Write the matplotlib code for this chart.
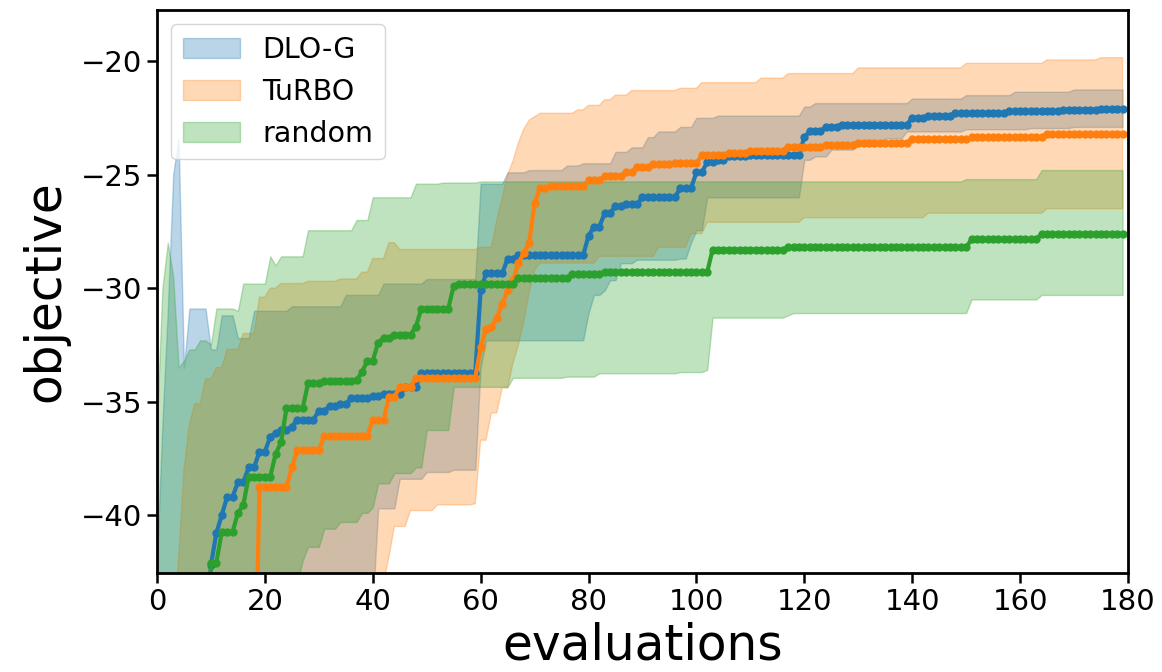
import numpy as np
import matplotlib
matplotlib.use("Agg")
from matplotlib import pyplot as plt

N = 180
evals = np.arange(N)

# (first evaluation, value) -- value holds until the next entry
dlo_mean = [(0, -50), (10, -42.2), (11, -40.8), (12, -40.0), (13, -39.2), (15, -38.55), (17, -37.9),
            (19, -37.2), (21, -36.55), (22, -36.4), (23, -36.25), (25, -36.1), (26, -35.8), (30, -35.4),
            (32, -35.2), (34, -35.1), (36, -34.85), (40, -34.75), (42, -34.65), (46, -34.35), (49, -33.75),
            (60, -30.1), (61, -29.35), (65, -28.7), (67, -28.55), (80, -27.7), (81, -27.3), (83, -26.7),
            (85, -26.4), (87, -26.3), (90, -26.0), (97, -25.6), (100, -24.9), (102, -24.45), (104, -24.35),
            (106, -24.2), (110, -24.15), (120, -23.35), (121, -23.1), (124, -22.9), (127, -22.8),
            (140, -22.5), (143, -22.4), (148, -22.3), (158, -22.2), (168, -22.15), (175, -22.1)]
dlo_hi = [(0, -42), (1, -36), (2, -31), (3, -25), (4, -23.4), (5, -33.5), (6, -30.9), (10, -32.7),
          (12, -31.2), (15, -32.2), (18, -31.0), (25, -30.8), (35, -30.3), (42, -29.8), (50, -29.6),
          (60, -25.4), (65, -24.9), (69, -24.8), (76, -24.6), (79, -24.5), (85, -24.0), (88, -23.8),
          (91, -23.35), (93, -23.1), (97, -22.9), (100, -22.5), (104, -22.4), (120, -22.0), (122, -21.85),
          (140, -21.65), (150, -21.5), (159, -21.35), (170, -21.25)]
dlo_lo = [(0, -50), (40, -44), (41, -39.7), (45, -38.4), (50, -38.1), (55, -38.0), (60, -33.5),
          (61, -32.3), (80, -31.1), (81, -30.3), (83, -30.1), (84, -29.65), (86, -28.9), (89, -28.75),
          (97, -28.7), (99, -28.0), (100, -27.45), (102, -26.0), (120, -24.35), (122, -24.2), (125, -23.9),
          (130, -23.6), (135, -23.4), (139, -23.1), (150, -23.0), (162, -22.95), (170, -22.9)]

turbo_mean = [(0, -50), (19, -38.75), (25, -37.9), (26, -37.15), (31, -36.5), (40, -35.8), (43, -34.8),
              (45, -34.35), (48, -33.95), (60, -32.6), (61, -31.8), (62, -31.7), (63, -31.3), (64, -30.7),
              (65, -30.1), (66, -29.65), (67, -28.9), (68, -28.45), (69, -28.0), (70, -26.25), (71, -25.6),
              (73, -25.5), (80, -25.25), (83, -25.05), (87, -24.9), (89, -24.65), (92, -24.55), (96, -24.5),
              (101, -24.15), (106, -24.05), (110, -23.95), (117, -23.8), (124, -23.7), (130, -23.6),
              (140, -23.45), (151, -23.35), (165, -23.2)]
turbo_hi = [(0, -50), (3, -45), (4, -42), (5, -38), (6, -36), (7, -35.1), (9, -34.0), (11, -33.5),
            (13, -32.7), (16, -32.0), (19, -30.4), (21, -30.0), (23, -29.8), (28, -29.7), (34, -29.6),
            (38, -29.3), (40, -28.7), (43, -28.0), (45, -28.3), (60, -28.2), (63, -27.0), (64, -26.0),
            (65, -25.0), (66, -24.4), (67, -23.6), (68, -23.0), (69, -22.6), (70, -22.45), (71, -22.3),
            (78, -22.15), (80, -21.95), (83, -21.7), (85, -21.5), (88, -21.3), (97, -21.2), (101, -20.95),
            (112, -20.75), (117, -20.55), (130, -20.3), (150, -20.1), (165, -19.95), (175, -19.85)]
turbo_lo = [(0, -50), (40, -44), (42, -43), (43, -41.85), (44, -40.5), (47, -39.8), (52, -39.55),
            (59, -39.5), (60, -36.7), (62, -35.5), (64, -34.4), (66, -33.3), (67, -32.5), (68, -31.5),
            (69, -30.2), (70, -29.2), (71, -28.9), (82, -28.6), (93, -28.2), (99, -27.6), (102, -27.1),
            (120, -26.9), (143, -26.7), (165, -26.5)]

rand_mean = [(0, -50), (10, -42.1), (12, -40.75), (15, -39.9), (16, -39.55), (17, -38.3), (22, -37.3),
             (23, -36.8), (24, -35.3), (28, -34.2), (31, -34.1), (37, -34.05), (38, -33.7), (39, -33.2),
             (41, -32.4), (42, -32.2), (44, -32.05), (48, -31.7), (49, -30.9), (55, -29.9), (56, -29.8),
             (67, -29.55), (77, -29.4), (83, -29.3), (103, -28.3), (117, -28.2), (151, -27.85), (164, -27.6)]
rand_hi = [(0, -36), (1, -30), (2, -28), (3, -29.5), (4, -33.5), (5, -33.2), (6, -32.7), (8, -32.3),
           (10, -32.5), (11, -30.9), (15, -31.0), (16, -29.8), (21, -28.6), (22, -29.0), (23, -28.6),
           (28, -27.45), (37, -27.0), (40, -26.0), (48, -25.4), (53, -25.35), (60, -25.3), (150, -25.2),
           (164, -24.8)]
rand_lo = [(0, -50), (26, -43), (27, -42), (28, -41.4), (31, -40.6), (34, -40.3), (38, -39.9),
           (40, -39.65), (41, -38.6), (44, -38.15), (48, -37.9), (50, -36.25), (55, -34.35), (66, -33.95),
           (76, -33.9), (82, -33.75), (97, -33.7), (102, -33.6), (103, -31.3), (117, -31.2), (118, -31.1),
           (151, -30.5), (164, -30.3)]

labels = ["DLO-G", "TuRBO", "random"]


def expand(bp):
    starts = [b[0] for b in bp] + [N]
    vals = [b[1] for b in bp]
    return np.repeat(vals, np.diff(starts))


series = [(dlo_mean, dlo_lo, dlo_hi), (turbo_mean, turbo_lo, turbo_hi), (rand_mean, rand_lo, rand_hi)]
colors = ["C0", "C1", "C2"]

fig = plt.figure(figsize=(11.62, 6.72), dpi=100)
ax = fig.add_axes([0.1351, 0.1473, 0.8356, 0.8378])

for (m, lo, hi), c, lab in zip(series, colors, labels):
    ax.fill_between(evals, expand(lo), expand(hi), color=c, alpha=0.3, label=lab)
for (m, lo, hi), c in zip(series, colors):
    ax.plot(evals, expand(m), color=c, lw=3, marker="o", ms=5)

ax.set_xlim(0, 180)
ax.set_ylim(-42.55, -17.75)
ax.set_xticks(np.arange(0, 181, 20))
ax.set_yticks([-40, -35, -30, -25, -20])
ax.tick_params(labelsize=21, width=1.8, length=7)
for s in ax.spines.values():
    s.set_linewidth(2)
ax.set_xlabel("evaluations", fontsize=35, labelpad=4)
ax.set_ylabel("objective", fontsize=35, labelpad=8)
ax.legend(loc="upper left", fontsize=20.5)

fig.savefig("out.png", dpi=100)
